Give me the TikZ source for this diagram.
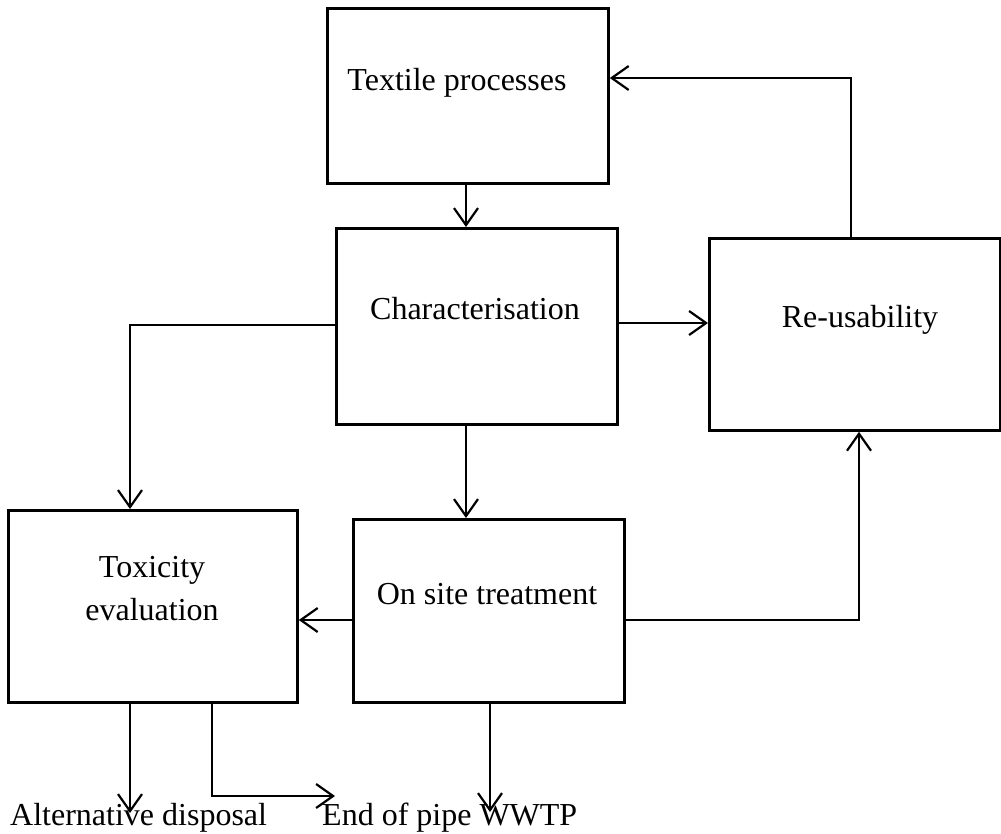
\documentclass[tikz,border=0pt]{standalone}
\usepackage{fontspec}
\setmainfont{Liberation Serif}
\usetikzlibrary{arrows.meta}
\begin{document}
\begin{tikzpicture}[x=1pt,y=-1pt,
  box/.style={draw, line width=2.8pt, inner sep=0pt, anchor=north west},
  lbl/.style={font=\fontsize{32}{38}\selectfont, inner sep=0pt, anchor=base},
  arr/.style={line width=2.2pt, -{Straight Barb[length=17pt,width=24pt,line width=2.2pt]}}]
\useasboundingbox (0,0) rectangle (1001,833);
% boxes
\node[box, minimum width=281pt, minimum height=175pt] (tp) at (326,7) {};
\node[box, minimum width=281pt, minimum height=196pt] (ch) at (335,227) {};
\node[box, minimum width=291pt, minimum height=192pt] (re) at (708,237) {};
\node[box, minimum width=289pt, minimum height=192pt] (tox) at (7,509) {};
\node[box, minimum width=271pt, minimum height=183pt] (os) at (352,518) {};
% texts
\node[lbl] (tpt) at (457,90) {Textile processes};
\node[lbl] (cht) at (475,319) {Characterisation};
\node[lbl] (ret) at (860,327) {Re-usability};
\node[lbl] (ost) at (487,604) {On site treatment};
\node[lbl] (toxt1) at (152,577) {Toxicity};
\node[lbl] (toxt2) at (152,620) {evaluation};
\node[lbl, anchor=base west] (alt) at (10,825) {Alternative disposal};
\node[lbl, anchor=base west] (eop) at (322,825) {End of pipe WWTP};
% helper coordinates
\coordinate (c1) at (851,78);
\coordinate (c2) at (130,325);
\coordinate (c3) at (466,0);
\coordinate (c4) at (0,620);
\coordinate (c5) at (859,620);
\coordinate (c6) at (130,813);
\coordinate (c7) at (212,796);
\coordinate (c8) at (335,796);
\coordinate (c9) at (490,812);
\coordinate (c10) at (0,323);
% connectors
\draw[arr] (tp.south -| c3) -- (ch.north -| c3);
\draw[arr] (ch.east |- c10) -- (re.west |- c10);
\draw[arr] (re.north -| c1) -- (c1) -- (c1 -| tp.east);
\draw[arr] (ch.west |- c2) -- (c2) -- (tox.north -| c2);
\draw[arr] (ch.south -| c3) -- (os.north -| c3);
\draw[arr] (os.west |- c4) -- (tox.east |- c4);
\draw[arr] (os.east |- c5) -- (c5) -- (re.south -| c5);
\draw[arr] (tox.south -| c6) -- (c6);
\draw[arr] (tox.south -| c7) -- (c7) -- (c8);
\draw[arr] (os.south -| c9) -- (c9);
\end{tikzpicture}
\end{document}
